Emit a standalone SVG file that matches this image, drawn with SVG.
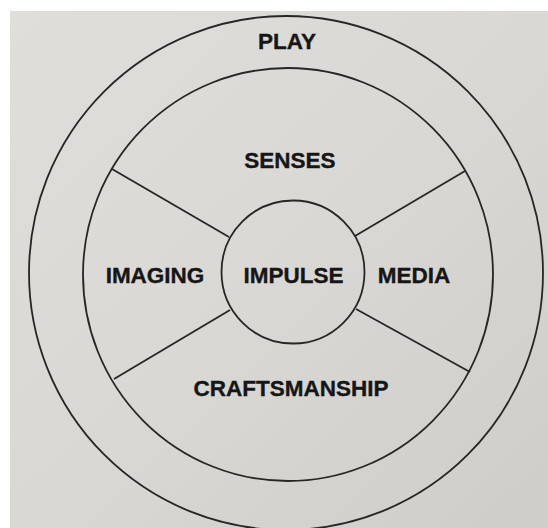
<svg xmlns="http://www.w3.org/2000/svg" width="548" height="528" viewBox="0 0 548 528">
  <defs>
    <linearGradient id="paper" x1="0" y1="0" x2="1" y2="1">
      <stop offset="0" stop-color="#dfdedb"/>
      <stop offset="0.5" stop-color="#d9d8d4"/>
      <stop offset="1" stop-color="#cfcdc8"/>
    </linearGradient>
  </defs>
  <style>
    .ring { fill: none; stroke: #262626; stroke-width: 1.8; }
    .spoke { stroke: #262626; stroke-width: 1.8; fill: none; }
    .lbl { font-family: "Liberation Sans", Arial, Helvetica, sans-serif; font-weight: bold; font-size: 22.5px; fill: #161616; stroke: #161616; stroke-width: 0.35; text-anchor: middle; }
  </style>
  <rect x="0" y="0" width="548" height="528" fill="#ffffff"/>
  <rect x="10" y="11" width="538" height="517" fill="url(#paper)"/>

  <g id="play">
    <circle class="ring" cx="286" cy="273" r="257"/>
    <text class="lbl" x="287" y="49">PLAY</text>
  </g>
  <g id="middle-ring">
    <ellipse class="ring" cx="288" cy="274.5" rx="205" ry="206.5"/>
  </g>

  <g id="connectors">
    <line class="spoke" x1="112" y1="169" x2="229" y2="237"/>
    <line class="spoke" x1="465" y1="171" x2="355" y2="236"/>
    <line class="spoke" x1="114" y1="379" x2="230" y2="310"/>
    <line class="spoke" x1="470" y1="372" x2="356" y2="309"/>
  </g>

  <g id="senses">
    <text class="lbl" x="290" y="168">SENSES</text>
  </g>
  <g id="imaging">
    <text class="lbl" x="155" y="283">IMAGING</text>
  </g>
  <g id="media">
    <text class="lbl" x="414" y="283">MEDIA</text>
  </g>
  <g id="craftsmanship">
    <text class="lbl" x="291" y="396">CRAFTSMANSHIP</text>
  </g>
  <g id="impulse">
    <circle class="ring" cx="293" cy="272" r="71.5"/>
    <text class="lbl" x="293.5" y="283">IMPULSE</text>
  </g>
</svg>
